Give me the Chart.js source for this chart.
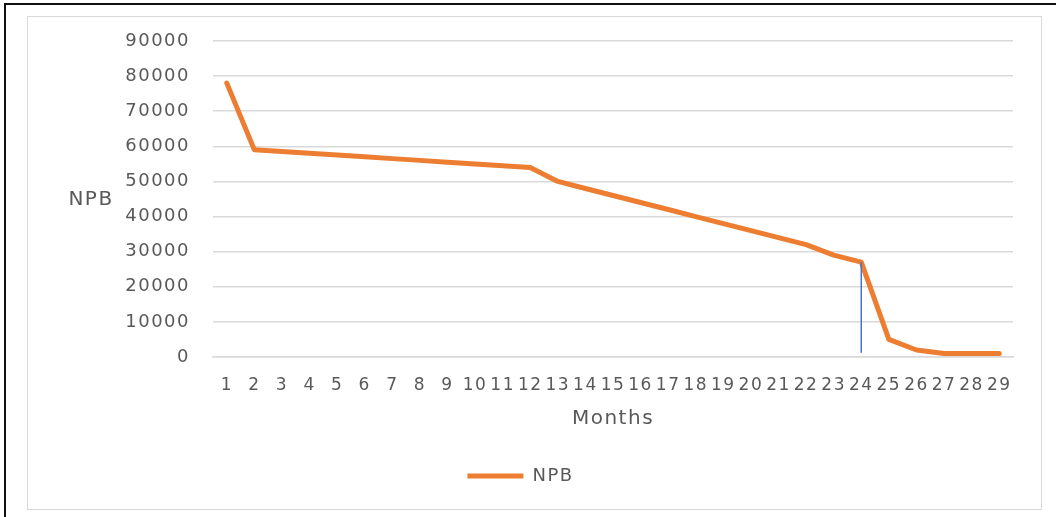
<!DOCTYPE html>
<html>
<head>
<meta charset="utf-8">
<script src="https://cdn.jsdelivr.net/npm/chart.js@4.4.1/dist/chart.umd.min.js"></script>
<style>
  html, body { margin: 0; padding: 0; background: #ffffff; }
  body { width: 1056px; height: 517px; position: relative; overflow: hidden; }
  #outer { position: absolute; left: 4px; top: 3px; right: -10px; bottom: -10px;
           border-left: 2px solid #111; border-top: 2px solid #111; }
  #box { position: absolute; left: 27px; top: 16px; width: 1015px; height: 494px;
         box-sizing: border-box; border: 1.5px solid #d9d9d9; background: #fff; }
  #c { position: absolute; left: 0; top: 0; }
</style>
</head>
<body>
<div id="outer"></div>
<div id="box"><canvas id="c" width="1012" height="491"></canvas></div>
<script>
// ---- data ----
const months = ['1','2','3','4','5','6','7','8','9','10','11','12','13','14','15','16','17','18','19','20','21','22','23','24','25','26','27','28','29'];
const npbValues = [78000, 59000, 58500, 58000, 57500, 57000, 56500, 56000, 55500, 55000, 54500, 54000,
                   50000, 48000, 46000, 44000, 42000, 40000, 38000, 36000, 34000, 32000,
                   29000, 27000, 5000, 2000, 1000, 1000, 1000];
const yTickValues = [0, 10000, 20000, 30000, 40000, 50000, 60000, 70000, 80000, 90000];
const markerMonth = '24';
const markerValues = [27000, 1200];
const seriesName = 'NPB';
const xTitle = 'Months';
const yTitle = 'NPB';

const TEXT = '#595959';
const FONT = "'DejaVu Sans', sans-serif";
const SPACING = '1.5px';

const spacingPlugin = {
  id: 'spacing',
  afterInit(chart) { chart.ctx.letterSpacing = SPACING; },
  beforeUpdate(chart) { chart.ctx.letterSpacing = SPACING; },
  beforeDraw(chart) { chart.ctx.letterSpacing = SPACING; }
};

const yTitlePlugin = {
  id: 'yTitleH',
  afterDraw(chart) {
    const ctx = chart.ctx;
    const area = chart.chartArea;
    ctx.save();
    ctx.letterSpacing = SPACING;
    ctx.font = "20px " + FONT;
    ctx.fillStyle = TEXT;
    ctx.textAlign = 'center';
    ctx.textBaseline = 'middle';
    ctx.fillText(yTitle, 63, (area.top + area.bottom) / 2 + 1);
    ctx.restore();
  }
};

new Chart(document.getElementById('c'), {
  type: 'line',
  data: {
    labels: months,
    datasets: [
      {
        label: 'marker',
        data: markerValues.map(v => ({ x: markerMonth, y: v })),
        borderColor: '#4472c4',
        backgroundColor: '#4472c4',
        borderWidth: 1.5,
        pointRadius: 0,
        tension: 0,
        order: 0
      },
      {
        label: seriesName,
        data: npbValues,
        borderColor: '#ed7d31',
        backgroundColor: '#ed7d31',
        borderWidth: 5,
        borderCapStyle: 'round',
        borderJoinStyle: 'round',
        pointRadius: 0,
        tension: 0,
        order: 1
      }
    ]
  },
  plugins: [spacingPlugin, yTitlePlugin],
  options: {
    responsive: false,
    animation: false,
    devicePixelRatio: 1,
    layout: { padding: { left: 0, right: 27, top: 24, bottom: 13 } },
    plugins: {
      tooltip: { enabled: false },
      legend: {
        position: 'bottom',
        labels: {
          filter: item => item.text === seriesName,
          usePointStyle: true,
          pointStyle: 'line',
          pointStyleWidth: 56,
          color: TEXT,
          font: { family: FONT, size: 18 },
          padding: 10
        }
      }
    },
    scales: {
      x: {
        type: 'category',
        offset: true,
        grid: { display: false, drawTicks: false },
        border: { display: true, color: '#d9d9d9', width: 1.5 },
        ticks: {
          autoSkip: false, maxRotation: 0, minRotation: 0,
          color: TEXT, font: { family: FONT, size: 17 }, padding: 18
        },
        title: {
          display: true, text: xTitle, color: TEXT,
          font: { family: FONT, size: 20 }, padding: { top: 0, bottom: 26 }
        },
        afterFit(scale) { scale.height = 100; }
      },
      y: {
        min: 0, max: 90000,
        grid: { color: '#d9d9d9', lineWidth: 1.5, drawTicks: false },
        border: { display: false },
        afterBuildTicks(scale) { scale.ticks = yTickValues.map(v => ({ value: v })); },
        ticks: {
          color: TEXT, font: { family: FONT, size: 18 }, padding: 23,
          callback: v => String(v)
        },
        afterFit(scale) {
          scale.width = 185;
          scale.paddingTop = 0;
          scale.paddingBottom = 0;
        }
      }
    }
  }
});
</script>
</body>
</html>
